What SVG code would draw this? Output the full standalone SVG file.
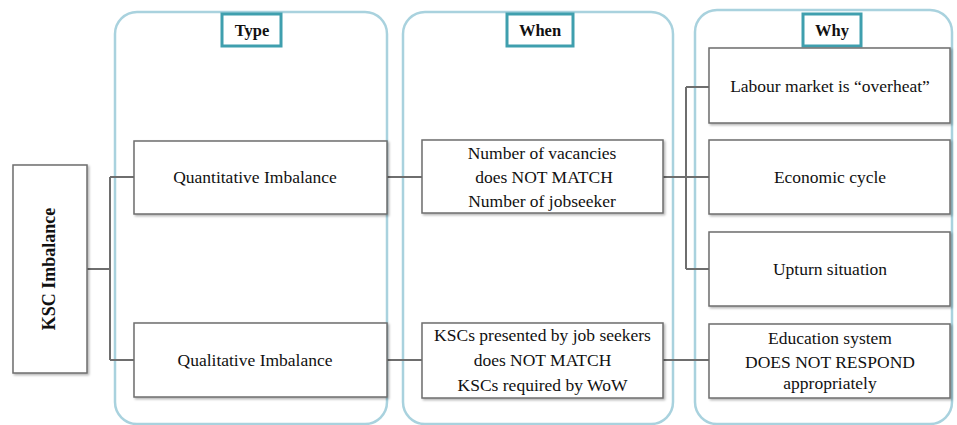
<svg xmlns="http://www.w3.org/2000/svg" width="957" height="425" viewBox="0 0 957 425">
  <defs>
    <filter id="shadow" x="-5%" y="-5%" width="115%" height="120%">
      <feDropShadow dx="1.5" dy="1.5" stdDeviation="1" flood-color="#000" flood-opacity="0.3"/>
    </filter>
  </defs>
  <style>
    .panel { fill: none; stroke: #a9d2de; stroke-width: 2.5; }
    .title { fill: #fff; stroke: #3f9fae; stroke-width: 3; }
    .box { fill: #fff; stroke: #6e6e6e; stroke-width: 1.5; filter: url(#shadow); }
    .link { fill: none; stroke: #6e6e6e; stroke-width: 2; }
    text { font-family: 'Liberation Serif', 'Times New Roman', serif; font-size: 17.5px; fill: #111; text-anchor: middle; dominant-baseline: central; }
    .head { font-weight: bold; font-size: 16.5px; }
    .root { font-weight: bold; font-size: 18px; }
  </style>

  <rect width="957" height="425" fill="#fff"/>

  <!-- column panels -->
  <g id="panels">
    <rect class="panel" x="115" y="12" width="272" height="412" rx="22"/>
    <rect class="panel" x="403" y="12" width="270" height="412" rx="22"/>
    <rect class="panel" x="695" y="10" width="257" height="414" rx="22"/>
  </g>

  <!-- connectors -->
  <g id="connectors">
    <path class="link" d="M87 269 H110 M110 177 V360 M110 177 H134 M110 360 H134"/>
    <path class="link" d="M387 177 H422 M387 360 H422"/>
    <path class="link" d="M663 177 H709 M686 87 V269 M686 87 H709 M686 269 H709"/>
    <path class="link" d="M663 360 H709"/>
  </g>

  <!-- column titles -->
  <g id="title-type">
    <rect class="title" x="222" y="14" width="59" height="32"/>
    <text class="head" x="252" y="30">Type</text>
  </g>
  <g id="title-when">
    <rect class="title" x="507" y="14" width="66" height="32"/>
    <text class="head" x="540" y="30">When</text>
  </g>
  <g id="title-why">
    <rect class="title" x="803" y="14" width="58" height="32"/>
    <text class="head" x="832" y="30">Why</text>
  </g>

  <!-- root -->
  <g id="ksc-imbalance">
    <rect class="box" x="13" y="165" width="74" height="208"/>
    <text class="root" transform="translate(49 269) rotate(-90)" x="0" y="0">KSC Imbalance</text>
  </g>

  <!-- type -->
  <g id="quantitative">
    <rect class="box" x="134" y="141" width="253" height="73"/>
    <text x="255" y="177">Quantitative Imbalance</text>
  </g>
  <g id="qualitative">
    <rect class="box" x="134" y="323" width="253" height="74"/>
    <text x="255" y="360">Qualitative Imbalance</text>
  </g>

  <!-- when -->
  <g id="when-quantity">
    <rect class="box" x="422" y="140" width="241" height="73"/>
    <text x="542" y="153">Number of vacancies</text>
    <text x="544" y="177">does NOT MATCH</text>
    <text x="542" y="201">Number of jobseeker</text>
  </g>
  <g id="when-quality">
    <rect class="box" x="422" y="323" width="241" height="75"/>
    <text x="542.5" y="335">KSCs presented by job seekers</text>
    <text x="542.5" y="360">does NOT MATCH</text>
    <text x="542.5" y="385">KSCs required by WoW</text>
  </g>

  <!-- why -->
  <g id="why-overheat">
    <rect class="box" x="709" y="48" width="241" height="75"/>
    <text x="830" y="86">Labour market is “overheat”</text>
  </g>
  <g id="why-cycle">
    <rect class="box" x="709" y="140" width="241" height="74"/>
    <text x="830" y="177">Economic cycle</text>
  </g>
  <g id="why-upturn">
    <rect class="box" x="709" y="232" width="241" height="74"/>
    <text x="830" y="269">Upturn situation</text>
  </g>
  <g id="why-education">
    <rect class="box" x="709" y="324" width="241" height="74"/>
    <text x="830" y="338">Education system</text>
    <text x="830" y="362">DOES NOT RESPOND</text>
    <text x="830" y="383">appropriately</text>
  </g>
</svg>
